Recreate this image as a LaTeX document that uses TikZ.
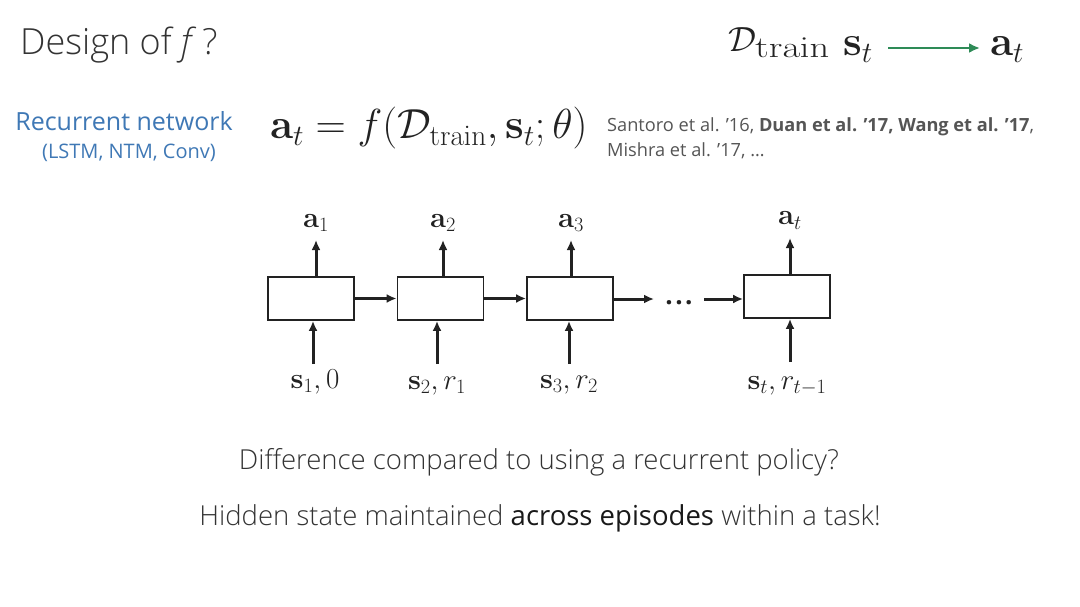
\RequirePackage{fix-cm}
\documentclass[tikz,border=0pt]{standalone}
\usepackage[no-math]{fontspec}
\setmainfont{Open Sans}
\newfontfamily\lightfont{Open Sans Light}
\usetikzlibrary{arrows.meta}
\definecolor{rnblue}{HTML}{3F78B5}
\definecolor{refgray}{HTML}{555555}
\definecolor{txtgray}{HTML}{333333}
\definecolor{ink}{HTML}{222222}
\definecolor{arrgreen}{HTML}{2E8B57}
\begin{document}
\begin{tikzpicture}[x=1pt,y=-1pt,
  cell/.style={draw=ink, line width=1.8pt, minimum width=86pt, minimum height=43pt, inner sep=0pt},
  flow/.style={draw=ink, line width=3pt, -{Latex[length=10pt,width=9pt]}},
  lbl/.style={inner sep=0pt, anchor=base, text=ink, font=\fontsize{29}{31}\selectfont},
  mth/.style={inner sep=0pt, anchor=base west, text=ink},
  bottomtext/.style={inner sep=0pt, text=txtgray, font=\lightfont\fontsize{27.5}{29}\selectfont}]
\useasboundingbox (0,0) rectangle (1080,607);
% title
\node[anchor=west, inner sep=0pt, text=txtgray, font=\lightfont\fontsize{36}{40}\selectfont] (title) at (20,45) {Design of \textit{f}\,?};
% top right formula
\node[mth, font=\fontsize{35}{37}\selectfont] (dcal) at (728,52) {$\mathcal{D}$};
\node[mth, font=\fontsize{30}{32}\selectfont] (train) at (755,58) {\scalebox{1.28}[1]{$\mathrm{train}$}};
\node[mth, font=\fontsize{42}{44}\selectfont] (st) at (843,56) {$\mathbf{s}_t$};
\node[mth, font=\fontsize{42}{44}\selectfont] (atop) at (990,56) {$\mathbf{a}_t$};
\draw[arrgreen, line width=2.6pt, -{Latex[length=11pt,width=10pt]}] (888,48) -- (980,48);
% recurrent network label
\node[inner sep=0pt, text=rnblue, font=\fontsize{25}{27}\selectfont] (rn) at (124,121) {Recurrent network};
\node[inner sep=0pt, text=rnblue, font=\fontsize{20}{22}\selectfont] (rnsub) at (129,153) {(LSTM, NTM, Conv)};
% equation
\node[mth, font=\fontsize{42}{44}\selectfont] (eq) at (270,139) {$\mathbf{a}_t = f(\mathcal{D}_{\mathrm{train}}, \mathbf{s}_t; \theta)$};
% references
\node[anchor=west, inner sep=0pt, text=refgray, font=\fontsize{18.2}{20}\selectfont] (ref1) at (607,127) {Santoro et al. '16, \textbf{Duan et al. '17, Wang et al. '17},};
\node[anchor=west, inner sep=0pt, text=refgray, font=\fontsize{18.2}{20}\selectfont] (ref2) at (607,151) {Mishra et al. '17, \dots};
% cells
\node[cell] (c1) at (311,298.5) {};
\node[cell] (c2) at (440.5,298.5) {};
\node[cell] (c3) at (570,298.5) {};
\node[cell] (c4) at (787,296.5) {};
\node[inner sep=0pt, anchor=base, text=ink, font=\fontsize{26}{28}\selectfont\bfseries] (dots) at (679,304) {.\hspace{2.5pt}.\hspace{2.5pt}.};
\coordinate (d1) at (654,299);
\coordinate (d2) at (704,299);
% outputs
\node[lbl] (a1) at (316,227) {$\mathbf{a}_1$};
\node[lbl] (a2) at (443,227) {$\mathbf{a}_2$};
\node[lbl] (a3) at (571,227) {$\mathbf{a}_3$};
\node[lbl] (a4) at (790,225) {$\mathbf{a}_t$};
% inputs
\node[lbl] (s1) at (315,388) {$\mathbf{s}_1, 0$};
\node[lbl] (s2) at (437,389) {$\mathbf{s}_2, r_1$};
\node[lbl] (s3) at (569,388) {$\mathbf{s}_3, r_2$};
\node[lbl] (s4) at (787,389) {$\mathbf{s}_t, r_{t-1}$};
% arrows up
\draw[flow] (c1.north -| 316,0) -- (316,240);
\draw[flow] (c2.north -| 443,0) -- (443,240);
\draw[flow] (c3.north -| 571,0) -- (571,240);
\draw[flow] (c4.north -| 790,0) -- (790,238);
% arrows in
\draw[flow] (313,364) -- (c1.south -| 313,0);
\draw[flow] (437,364) -- (c2.south -| 437,0);
\draw[flow] (569,364) -- (c3.south -| 569,0);
\draw[flow] (790,362) -- (c4.south -| 790,0);
% horizontal
\draw[flow] (c1.east) -- (c2.west);
\draw[flow] (c2.east) -- (c3.west);
\draw[flow] (c3.east |- d1) -- (d1);
\draw[flow] (d2) -- (c4.west |- d2);
% bottom text
\node[bottomtext] (q) at (539,462) {Difference compared to using a recurrent policy?};
\node[bottomtext] (ans) at (540,518) {Hidden state maintained {\normalfont\fontsize{27.5}{29}\selectfont\color{black!90}across episodes} within a task!};
\end{tikzpicture}
\end{document}
